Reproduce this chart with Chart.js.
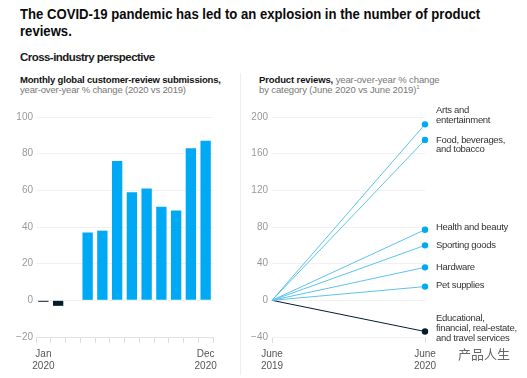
<!DOCTYPE html>
<html><head><meta charset="utf-8">
<script src="https://cdn.jsdelivr.net/npm/chart.js@4.4.0/dist/chart.umd.min.js"></script>
<style>
html,body{margin:0;padding:0;background:#fff;}
body{width:527px;height:378px;position:relative;overflow:hidden;font-family:"Liberation Sans",Arial,sans-serif;color:#111;}
#title{position:absolute;left:20px;top:6px;white-space:nowrap;font-size:15px;font-weight:bold;line-height:16.5px;color:#0a0a0a;transform:scaleX(0.875);transform-origin:0 0;}
#sub{position:absolute;left:20px;top:50px;font-size:11.5px;font-weight:bold;color:#1a1a1a;letter-spacing:-0.55px;line-height:14px;}
.ct{position:absolute;font-size:9.5px;line-height:10.8px;color:#777;letter-spacing:-0.18px;white-space:nowrap;}
.ct b{color:#111;}
#divider{position:absolute;left:240px;top:73px;width:1px;height:302px;background:#eee;}
#c1{position:absolute;left:0;top:100px;}
#c2{position:absolute;left:245px;top:100px;}
#wm{position:absolute;left:458px;top:344px;font-family:"Noto Sans CJK SC";font-size:13px;color:#666;}
</style></head><body>
<div id="title">The COVID-19 pandemic has led to an explosion in the number of product<br>reviews.</div>
<div id="sub">Cross-industry perspective</div>
<div class="ct" style="left:20px;top:74.5px;"><b>Monthly global customer-review submissions,</b><br>year-over-year % change (2020 vs 2019)</div>
<div class="ct" style="left:259px;top:74.5px;letter-spacing:-0.12px;"><b>Product reviews,</b> year-over-year % change<br>by category (June 2020 vs June 2019)<sup style="font-size:6px;line-height:0">1</sup></div>
<div id="divider"></div>
<canvas id="c1" width="240" height="270"></canvas>
<canvas id="c2" width="282" height="270"></canvas>
<div id="wm">产品人生</div>
<script>
const months = ['Jan','Feb','Mar','Apr','May','Jun','Jul','Aug','Sep','Oct','Nov','Dec'];
const monthlyChange = [-0.8, -3, 0, 37, 38, 76, 59, 61, 51, 49, 83, 87];
const leftTicks = {min:-20, max:100, step:20};

const periods = ['June 2019','June 2020'];
const categories = [
  ['Arts and','entertainment'],
  ['Food, beverages,','and tobacco'],
  ['Health and beauty'],
  ['Sporting goods'],
  ['Hardware'],
  ['Pet supplies'],
  ['Educational,','financial, real-estate,','and travel services']
];
const categoryChange = [192, 175, 77, 60, 36, 15, -34];
const rightTicks = {min:-40, max:200, step:40};

const BLUE = '#00a9f4', NAVY = '#051c2c', LINE = '#5cc3ee';
const tickFont = {family:'"Liberation Sans", Arial, sans-serif', size:10};
const fmt = v => String(v).replace('-', '\u2212');

new Chart(document.getElementById('c1'), {
  type:'bar',
  data:{labels:months, datasets:[{data:monthlyChange,
    backgroundColor: monthlyChange.map(v => v < 0 ? NAVY : BLUE),
    barPercentage:0.7, categoryPercentage:1}]},
  options:{responsive:false, animation:false,
    layout:{padding:{top:17,left:0,right:27,bottom:0}},
    plugins:{legend:{display:false}, tooltip:{enabled:false}},
    scales:{
      x:{grid:{offset:true, drawOnChartArea:false, drawTicks:true, tickLength:6, color:'#ddd'},
         border:{display:true, color:'#e2e2e2'},
         ticks:{autoSkip:false, maxRotation:0, color:'#555', font:tickFont, padding:5,
           callback:(v,i)=> (i===0||i===months.length-1) ? [months[i],'2020'] : ''},
         afterFit:s=>{s.height=33;}},
      y:{min:leftTicks.min, max:leftTicks.max,
         ticks:{stepSize:leftTicks.step, color:'#999', font:tickFont, padding:3, callback:fmt},
         grid:{color:'#f1f1f1', drawTicks:false},
         border:{display:false},
         afterFit:s=>{s.width=36;}}
    }}
});

const labelOffsets = [-14, 0, -2, 0, 0, -1, -13];
const labelPlugin = {
  id:'endLabels',
  afterDatasetsDraw(chart){
    const ctx = chart.ctx;
    ctx.save();
    ctx.font = '9.5px "Liberation Sans", Arial, sans-serif';
    try { ctx.letterSpacing = '-0.3px'; } catch(e) {}
    ctx.fillStyle = '#333';
    ctx.textBaseline = 'middle';
    chart.data.datasets.forEach((ds,i)=>{
      const pt = chart.getDatasetMeta(i).data[1];
      categories[i].forEach((ln,j)=>{
        ctx.fillText(ln, pt.x + 11, pt.y + labelOffsets[i] + j*9.8);
      });
    });
    ctx.restore();
  }
};

new Chart(document.getElementById('c2'), {
  type:'line',
  data:{labels:periods, datasets:categoryChange.map((v,i)=>{
    const c = v < 0 ? NAVY : BLUE;
    return {data:[0, v], borderColor: v<0 ? NAVY : LINE, borderWidth:1,
      pointRadius:[0,3.2], pointBackgroundColor:c, pointBorderWidth:0, tension:0};
  })},
  options:{responsive:false, animation:false,
    layout:{padding:{top:17,left:0,right:102,bottom:0}},
    plugins:{legend:{display:false}, tooltip:{enabled:false}},
    scales:{
      x:{offset:false,
         grid:{drawOnChartArea:false, drawTicks:true, tickLength:6, color:'#ddd'},
         border:{display:false},
         ticks:{maxRotation:0, color:'#555', font:tickFont, padding:5,
           callback:(v,i)=> periods[i].split(' ')},
         afterFit:s=>{s.height=33;}},
      y:{min:rightTicks.min, max:rightTicks.max,
         ticks:{stepSize:rightTicks.step, color:'#999', font:tickFont, padding:4, callback:fmt},
         grid:{color:'#f1f1f1', drawTicks:false},
         border:{display:false},
         afterFit:s=>{s.width=27;}}
    }},
  plugins:[labelPlugin]
});
</script>
</body></html>
